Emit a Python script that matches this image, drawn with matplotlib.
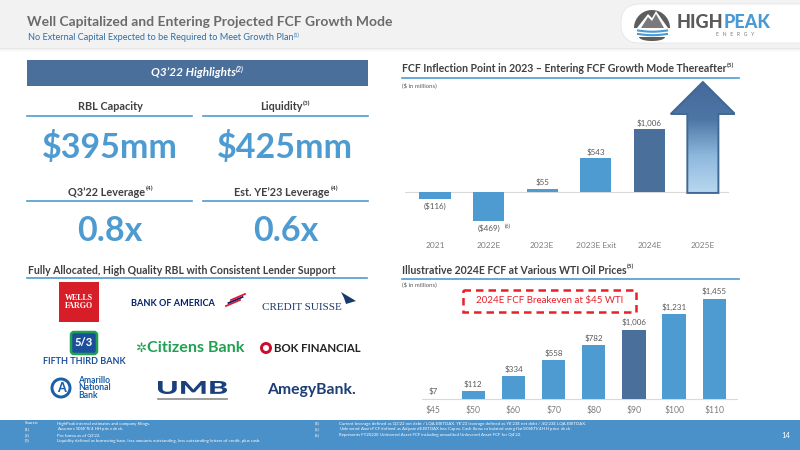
import matplotlib
matplotlib.use('Agg')
import matplotlib.pyplot as plt
from matplotlib.patches import Rectangle, FancyBboxPatch, Polygon, Circle, PathPatch
from matplotlib.colors import LinearSegmentedColormap
from matplotlib.textpath import TextPath
from matplotlib.font_manager import FontProperties
from matplotlib.transforms import Affine2D
import numpy as np

plt.rcParams['font.family'] = ['Lato', 'DejaVu Sans']

# ---------------- data ----------------
fcf_years = ['2021', '2022E', '2023E', '2023E Exit', '2024E', '2025E']
fcf_values = [-116, -469, 55, 543, 1006]
fcf_highlight = '2024E'
wti_prices = ['$45', '$50', '$60', '$70', '$80', '$90', '$100', '$110']
wti_fcf = [7, 112, 334, 558, 782, 1006, 1231, 1455]
wti_highlight = '$90'
kpi_titles = ['RBL Capacity', 'Liquidity', 'Q3’22 Leverage', 'Est. YE’23 Leverage']
kpi_notes = [None, '(3)', '(4)', '(4)']
kpi_values = ['$395mm', '$425mm', '0.8x', '0.6x']

BLUE = '#4e9bd1'
DARK = '#4a6f9a'
TXT = '#404040'
GREY = '#595959'

W, H = 800, 450
fig = plt.figure(figsize=(8, 4.5), dpi=100)
bg = fig.add_axes([0, 0, 1, 1])
bg.set_xlim(0, W)
bg.set_ylim(H, 0)
bg.axis('off')
bg.set_zorder(0)
R = fig.canvas.get_renderer()


def box(x0, y0, x1, y1):
    return [x0 / W, 1 - y1 / H, (x1 - x0) / W, (y1 - y0) / H]


def stext(x, y, main, sup=None, size=8, ha='left', color=TXT, weight='normal',
          style='normal', sup_color=None, family=None, zorder=5):
    kw = dict(fontsize=size, va='center', color=color, weight=weight, style=style, zorder=zorder)
    if family:
        kw['family'] = family
    t = bg.text(x, y, main, ha='left', **kw)
    w = t.get_window_extent(R).width
    ws = 0
    s = None
    if sup:
        kw2 = dict(kw)
        kw2['fontsize'] = size * 0.6
        kw2['color'] = sup_color or color
        s = bg.text(0, 0, sup, ha='left', **kw2)
        ws = s.get_window_extent(R).width
    tot = w + ws
    x0 = x if ha == 'left' else (x - tot / 2 if ha == 'center' else x - tot)
    t.set_x(x0)
    if s is not None:
        s.set_position((x0 + w + 0.5, y - size * 0.45))
    return t


def fit_text(s, x0, y_base, width, height, color, weight='black', zorder=5):
    """Draw text stretched to fill a pixel box (used for wide logo lettering)."""
    tp = TextPath((0, 0), s, size=10, prop=FontProperties(family='Lato', weight=weight))
    ext = tp.get_extents()
    sx = width / ext.width
    sy = height / ext.height
    tr = Affine2D().translate(-ext.x0, -ext.y0).scale(sx, -sy).translate(x0, y_base)
    bg.add_patch(PathPatch(tr.transform_path(tp), fc=color, ec='none', zorder=zorder))


# ---------------- header ----------------
bg.add_patch(Rectangle((0, 0), W, 48, color='#f2f2f2', zorder=1, lw=0))
for i, a in enumerate([0.18, 0.10, 0.05, 0.02]):
    bg.add_patch(Rectangle((0, 48 + i), W, 1, color='#808080', alpha=a, zorder=1, lw=0))
stext(27, 22, 'Well Capitalized and Entering Projected FCF Growth Mode', size=10.0,
      color='#6b6b6b', weight='bold')
stext(28, 38, 'No External Capital Expected to be Required to Meet Growth Plan', sup='(1)',
      size=6.6, color='#2e6ea6')

# logo
bg.add_patch(FancyBboxPatch((621, 4), 200, 39, boxstyle='round,pad=0,rounding_size=19',
                            fc='white', ec='#e6e6e6', lw=0.6, zorder=2))
th = np.linspace(0, np.pi, 40)
bg.add_patch(Polygon(np.c_[652 + 18 * np.cos(th), 28 - 18 * np.sin(th)], closed=True,
                     fc='#5d5d5d', ec='none', zorder=3))
bg.add_patch(Polygon([[637, 28], [648, 14], [652, 18], [656, 11], [668, 28]], closed=True,
                     fc='white', ec='none', zorder=4))
bg.add_patch(Polygon([[641, 28], [648, 17], [652, 21], [656, 14], [664, 28]], closed=True,
                     fc='#7a7a7a', ec='none', zorder=4))
for yy in (30.5, 34):
    xx = np.linspace(638, 667, 30)
    bg.plot(xx, yy + 1.2 * np.sin((xx - 638) / 29 * np.pi), color='#4a9ad4', lw=1.5, zorder=4)
bg.add_patch(Polygon(np.c_[652 + 13 * np.cos(th), 37 + 4 * np.sin(th)], closed=True,
                     fc='#5d5d5d', ec='none', zorder=3))
t1 = bg.text(677, 23, 'HIGH', fontsize=13, weight='black', color='#5a5a5a', va='center', zorder=5)
w1 = t1.get_window_extent(R).width
bg.text(677 + w1, 23, 'PEAK', fontsize=13, weight='black', color='#4a9ad4', va='center', zorder=5)
bg.text(735, 35, 'E   N   E   R   G   Y', fontsize=3.6, color='#777777', ha='center', va='center', zorder=5)

# ---------------- left panel ----------------
bg.add_patch(Rectangle((27, 60), 341, 26, color=DARK, zorder=2, lw=0))
stext(197, 73, 'Q3’22 Highlights', sup='(2)', size=8.5, ha='center', color='white',
      weight='bold', style='italic')

cx = [110, 285, 110, 286]
ty = [107, 107, 192, 192]
vy = [148, 148, 231, 231]
lines = [(27, 192), (203, 368)]
for i in range(4):
    stext(cx[i], ty[i], kpi_titles[i], sup=kpi_notes[i], size=7.8, ha='center',
          color=TXT, weight='bold')
    x0, x1 = lines[i % 2]
    bg.plot([x0, x1], [ty[i] + 8.5] * 2, color=BLUE, lw=1.2, zorder=3)
    bg.text(cx[i], vy[i], kpi_values[i], fontsize=24.5, weight='bold', color=BLUE,
            ha='center', va='center', zorder=5)

stext(28, 270, 'Fully Allocated, High Quality RBL with Consistent Lender Support', size=7.6,
      color=TXT, weight='bold')
bg.plot([27, 367], [278, 278], color=BLUE, lw=1.2, zorder=3)

# bank logos (approximated as text)
bg.add_patch(Rectangle((59, 282), 40, 40, color='#d71e28', zorder=3, lw=0))
bg.text(79, 302, 'WELLS\nFARGO', fontsize=5.8, color='white', weight='bold', family='Liberation Serif',
        ha='center', va='center', linespacing=1.0, zorder=5)
bg.text(131, 304, 'BANK OF AMERICA', fontsize=6.6, color='#012169', weight='bold', ha='left',
        va='center', zorder=5)
for k in range(3):
    bg.plot([226 + 2.5 * k, 240 + 2.5 * k], [306 - 3 * k, 300 - 3 * k],
            color='#e31837' if k != 1 else '#012169', lw=1.3, zorder=5)
bg.text(262, 307, 'CREDIT SUISSE', fontsize=8.0, color='#1a3a6b', family='Liberation Serif',
        ha='left', va='center', zorder=5)
bg.add_patch(Polygon([[341, 292], [356, 301], [346, 304], [344, 298]], closed=True, fc='#1a3a6b',
                     ec='none', zorder=5))
bg.add_patch(FancyBboxPatch((71, 332), 26, 22, boxstyle='round,pad=0,rounding_size=3',
                            fc='#1b4f9c', ec='#21a052', lw=1.8, zorder=4))
bg.text(84, 343, '5/3', fontsize=8, color='white', weight='black', ha='center', va='center', zorder=5)
bg.text(84, 362, 'FIFTH THIRD BANK', fontsize=6.5, color='#1b4f9c', weight='bold',
        ha='center', va='center', zorder=5)
bg.text(135, 348, '✲', fontsize=9.5, color='#21a052', weight='bold', ha='left', va='center',
        family='DejaVu Sans', zorder=5)
bg.text(147, 348, 'Citizens Bank', fontsize=11.6, color='#21a052', weight='bold', ha='left',
        va='center', zorder=5)
bg.add_patch(Circle((266, 348), 6, fc='#c8102e', ec='none', zorder=4))
bg.add_patch(Circle((266, 348), 3, fc='white', ec='none', zorder=5))
bg.text(274, 348, 'BOK FINANCIAL', fontsize=8.2, color='#222222', weight='bold', ha='left',
        va='center', zorder=5)
bg.add_patch(Circle((61, 388), 10.5, fc='#1b5fa8', ec='none', zorder=4))
bg.add_patch(Circle((61, 388), 7.5, fc='white', ec='none', zorder=5))
bg.text(61, 388, 'A', fontsize=9, color='#1b5fa8', weight='black', ha='center', va='center', zorder=6)
bg.text(78, 388, 'Amarillo\nNational\nBank', fontsize=6.2, color='#1b5fa8', weight='bold',
        ha='left', va='center', linespacing=0.85, zorder=5)
fit_text('UMB', 158, 394, 69, 13, '#1a3f7a')
bg.plot([158, 227], [398.5, 398.5], color='#8c8c8c', lw=1.2, zorder=5)
bg.text(267, 390, 'AmegyBank.', fontsize=11.3, color='#1b3e75', weight='bold', ha='left',
        va='center', zorder=5)

# ---------------- chart 1 ----------------
s1 = 0.0626
ax1 = fig.add_axes(box(405, 80, 735, 236))
ax1.set_zorder(3)
ax1.patch.set_alpha(0)
x1 = np.arange(len(fcf_years))
bar_x = x1[:len(fcf_values)]
cols1 = [DARK if fcf_years[i] == fcf_highlight else BLUE for i in range(len(fcf_values))]
ax1.bar(bar_x, fcf_values, width=0.58, color=cols1, zorder=3)
ax1.axhline(0, xmin=0, xmax=0.98, color='#d9d9d9', lw=0.8, zorder=1)


def money(v):
    s = '${:,.0f}'.format(abs(v))
    return '({})'.format(s) if v < 0 else s


for xi, v in zip(bar_x, fcf_values):
    off = 6 if v >= 0 else -7
    ax1.annotate(money(v), (xi, v), xytext=(0, off), textcoords='offset pixels',
                 ha='center', va='center', fontsize=5.8, color=GREY)
i22 = fcf_years.index('2022E')
ax1.annotate('(6)', (i22, fcf_values[i22]), xytext=(19, -5), textcoords='offset pixels',
             ha='center', va='center', fontsize=3.8, color=GREY)

# growth arrow for 2025E
ia = len(fcf_years) - 1
arrow_shaft_top = 1246
arrow_tip = 1757
sw, hw = 0.29, 0.6
arrow = Polygon([[ia - sw, -15], [ia - sw, arrow_shaft_top], [ia - hw, arrow_shaft_top],
                 [ia, arrow_tip], [ia + hw, arrow_shaft_top], [ia + sw, arrow_shaft_top],
                 [ia + sw, -15]], closed=True, fc='none', ec='#3f6994', lw=1.4, zorder=5)
ax1.add_patch(arrow)
cmap = LinearSegmentedColormap.from_list('g', ['#b9d8ef', '#8fb8dd', '#4d76a5', '#46699a'])
grad = np.linspace(0, 1, 256).reshape(-1, 1)
im = ax1.imshow(grad, extent=[ia - hw, ia + hw, -15, arrow_tip], origin='lower', aspect='auto',
                cmap=cmap, zorder=4)
im.set_clip_path(arrow)
ax1.set_xlim(-0.56, 5.6)
ax1.set_ylim(-(236 - 192) / s1, (192 - 80) / s1)
ax1.set_xticks(x1)
ax1.set_xticklabels(fcf_years, fontsize=6, color='#7f7f7f')
ax1.tick_params(length=0, pad=4)
ax1.set_yticks([])
for sp in ax1.spines.values():
    sp.set_visible(False)

stext(402, 69, 'FCF Inflection Point in 2023 – Entering FCF Growth Mode Thereafter', sup='(5)',
      size=7.6, color=TXT, weight='bold')
bg.plot([402, 739], [77.5, 77.5], color=BLUE, lw=1.2, zorder=3)
bg.text(402, 85, '($ in millions)', fontsize=4.3, color=GREY, va='center', zorder=5)

# ---------------- chart 2 ----------------
s2 = 0.069
ax2 = fig.add_axes(box(405, 290, 740, 399))
ax2.set_zorder(3)
ax2.patch.set_alpha(0)
x2 = np.arange(len(wti_prices))
cols2 = [DARK if p == wti_highlight else BLUE for p in wti_prices]
ax2.bar(x2, wti_fcf, width=0.58, color=cols2, zorder=3)
ax2.set_xlim(-0.70, 7.64)
ax2.set_ylim(0, (399 - 290) / s2)
ax2.axhline(0, xmin=0.05, xmax=0.99, color='#d9d9d9', lw=0.8, zorder=1, clip_on=False)
for xi, v in zip(x2, wti_fcf):
    ax2.annotate(money(v), (xi, v), xytext=(0, 7), textcoords='offset pixels', ha='center',
                 va='center', fontsize=5.8, color=GREY, annotation_clip=False)
ax2.set_xticks(x2)
ax2.set_xticklabels(wti_prices, fontsize=6.2, color='#7f7f7f')
ax2.tick_params(length=0, pad=5)
ax2.set_yticks([])
for sp in ax2.spines.values():
    sp.set_visible(False)

stext(402, 270, 'Illustrative 2024E FCF at Various WTI Oil Prices', sup='(5)', size=7.6,
      color=TXT, weight='bold')
bg.plot([402, 739], [278.5, 278.5], color=BLUE, lw=1.2, zorder=3)
bg.text(402, 284.5, '($ in millions)', fontsize=4.3, color=GREY, va='center', zorder=5)
bg.add_patch(Rectangle((463, 290), 173, 22, fc='white', ec='#e8202a', lw=1.8, ls=(0, (3, 2)),
                       zorder=6))
bg.text(549.5, 301, '2024E FCF Breakeven at $45 WTI', fontsize=7, color='#e8202a', ha='center',
        va='center', zorder=7)

# ---------------- footer ----------------
bg.add_patch(Rectangle((0, 420), W, 30, color='#4a90c9', zorder=1, lw=0))
left_notes = [('Source:', 'HighPeak internal estimates and company filings.'),
              ('(1)', 'Assumes $90 WTI / $4 HH price deck.'),
              ('(2)', 'Pro forma as of Q3’22.'),
              ('(3)', 'Liquidity defined as borrowing base, less amounts outstanding, less outstanding letters of credit, plus cash.')]
right_notes = [('(4)', 'Current leverage defined as Q3’22 net debt / LQA EBITDAX. YE’23 leverage defined as YE’23E net debt / 4Q’23E LQA EBITDAX.'),
               ('(5)', 'Unlevered Asset FCF defined as Adjusted EBITDAX less Capex. Cash flows calculated using flat $90 WTI / $4 HH price deck.'),
               ('(6)', 'Represents FY2022E Unlevered Asset FCF including unaudited Unlevered Asset FCF for Q4’22.')]
for k, (a, b) in enumerate(left_notes):
    bg.text(25, 423.5 + 5.8 * k, a, fontsize=3.2, color='white', va='center', zorder=5)
    bg.text(57, 423.5 + 5.8 * k, b, fontsize=3.2, color='white', va='center', zorder=5)
for k, (a, b) in enumerate(right_notes):
    bg.text(315, 423.5 + 5.8 * k, a, fontsize=3.2, color='white', va='center', zorder=5)
    bg.text(339, 423.5 + 5.8 * k, b, fontsize=3.2, color='white', va='center', zorder=5)
bg.text(786, 435, '14', fontsize=5.5, color='white', ha='center', va='center', zorder=5)

fig.savefig('out.png', dpi=100)
